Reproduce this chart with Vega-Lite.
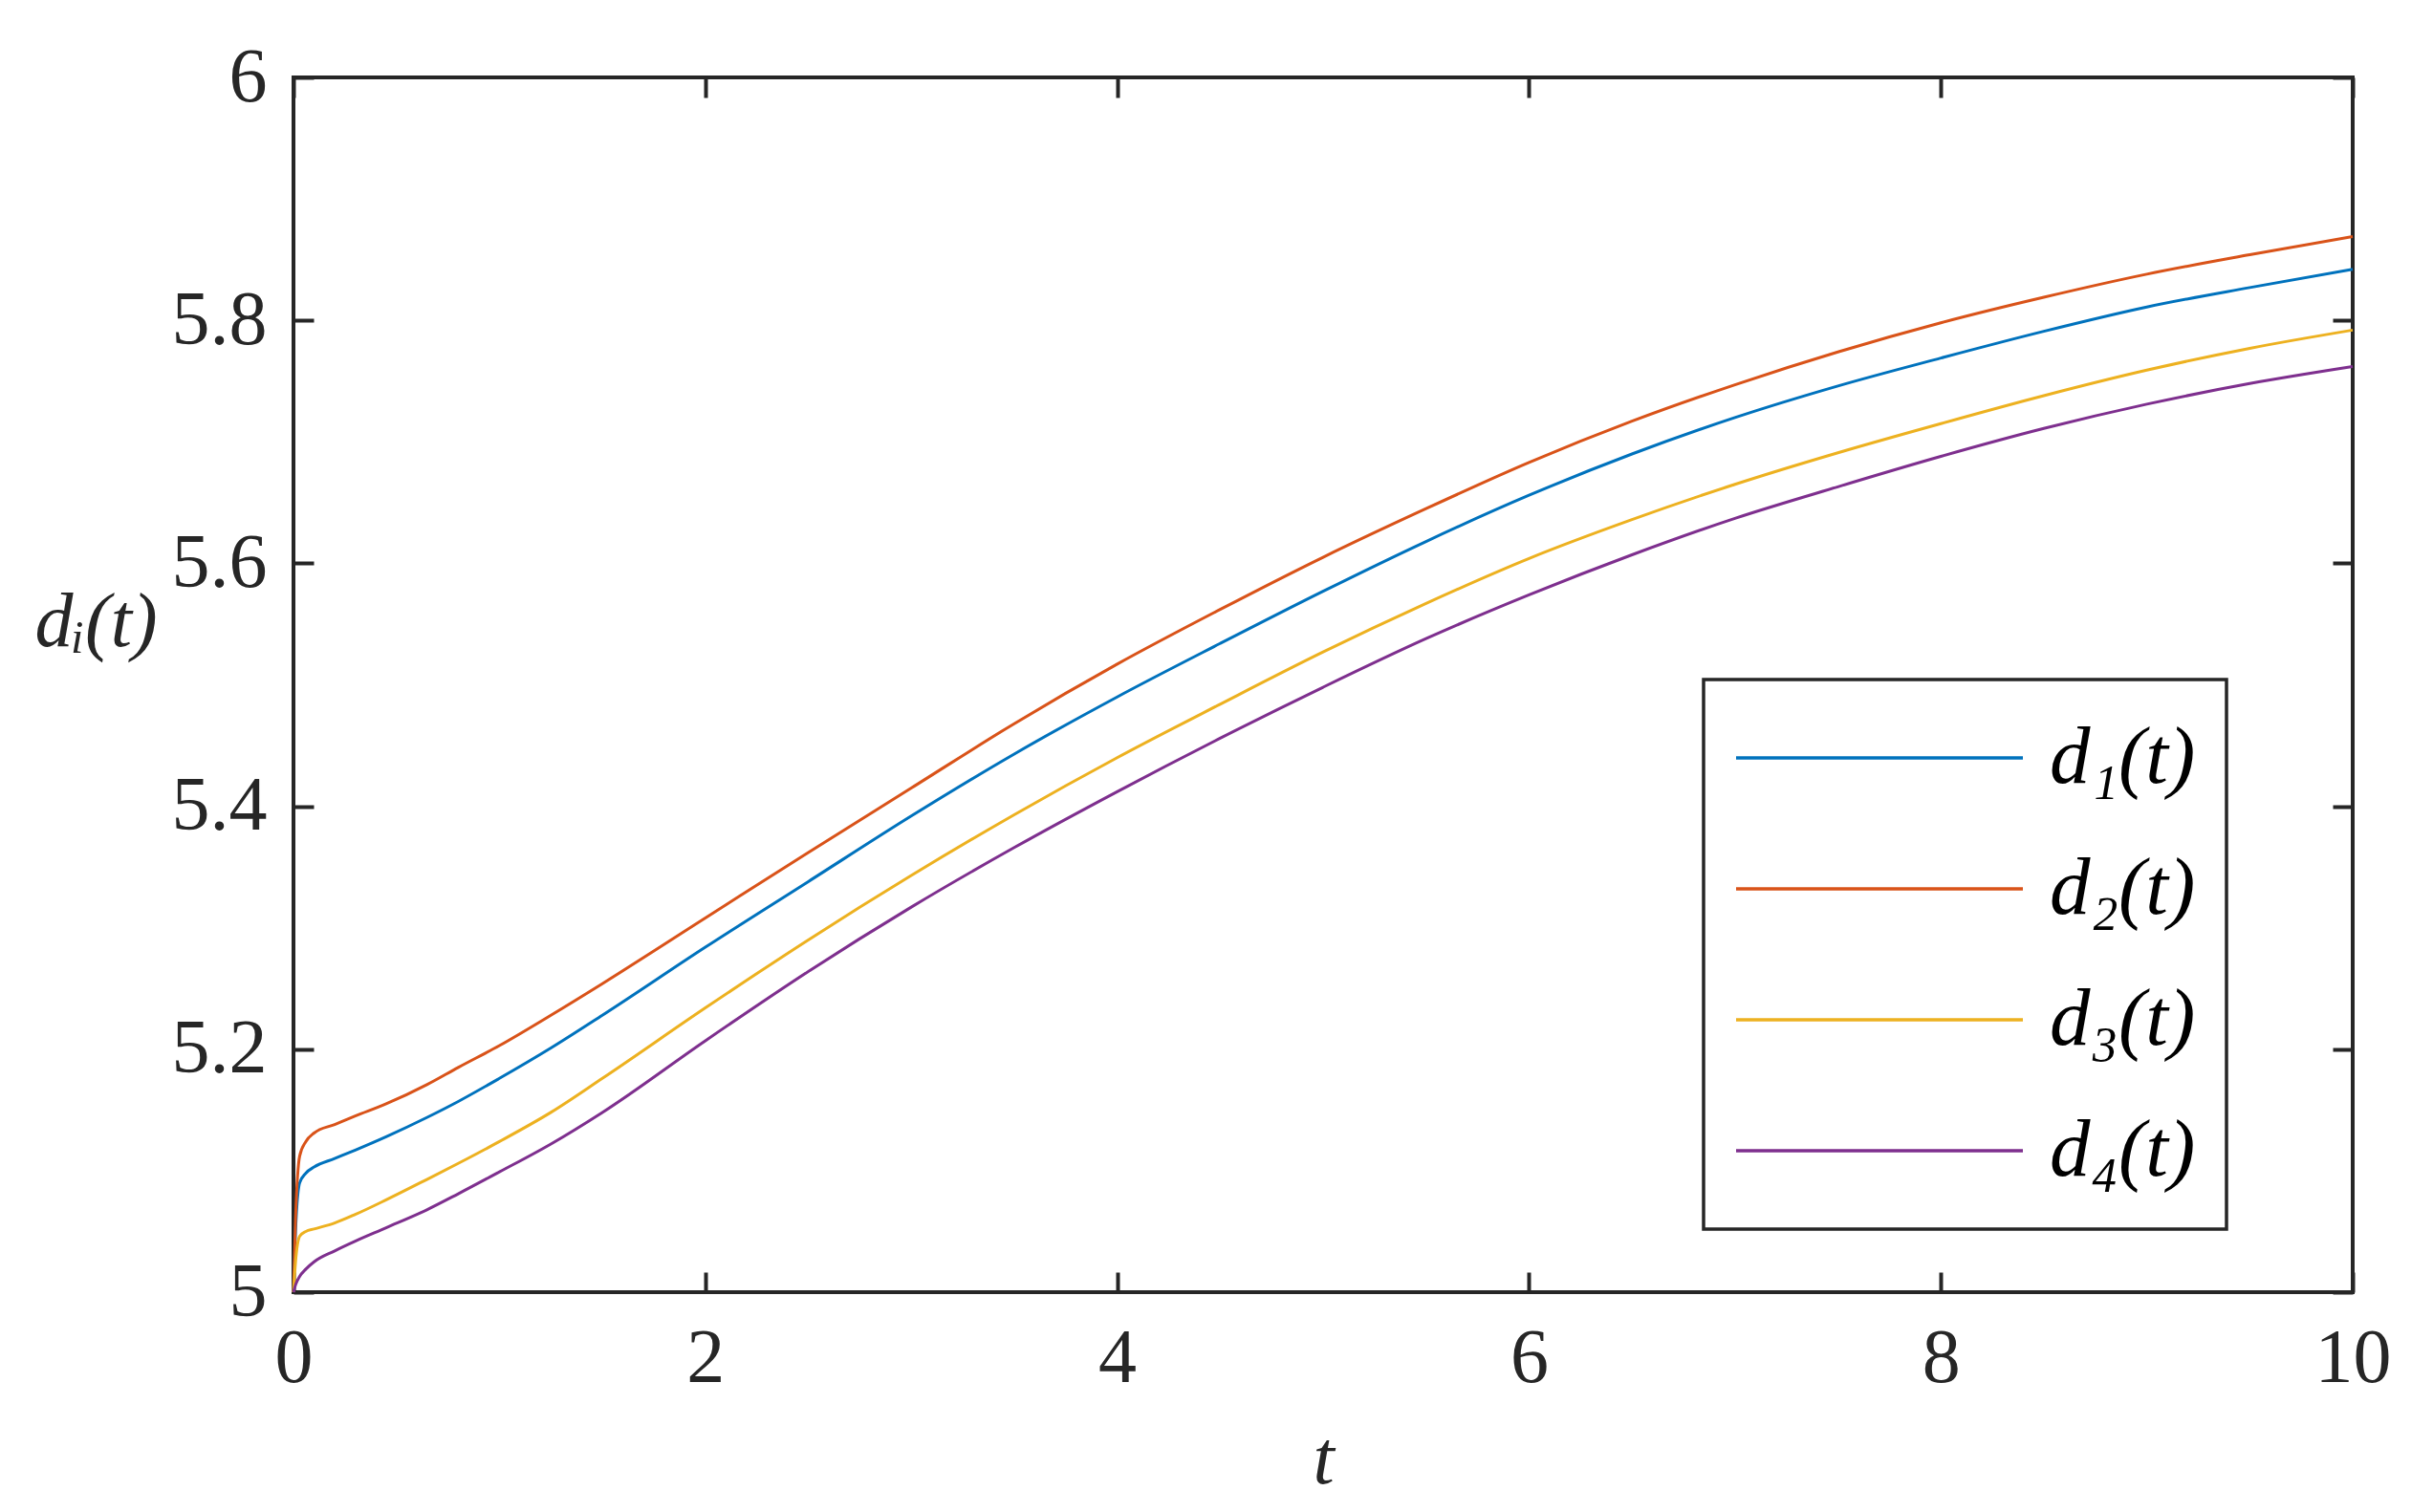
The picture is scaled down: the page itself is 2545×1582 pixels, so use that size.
{
  "$schema": "https://vega.github.io/schema/vega-lite/v6.json",
  "width": 2154,
  "height": 1271,
  "autosize": {"type": "none"},
  "padding": {"left": 307, "top": 81, "right": 84, "bottom": 230},
  "background": "white",
  "config": {
    "view": {"stroke": "#262626", "strokeWidth": 4},
    "font": "Liberation Serif",
    "legend": {"strokeWidth": 3.5}
  },
  "datasets": {
    "curves": [
      {"t": 0, "series": "d₁(t)", "d": 5.0}, {"t": 0.01, "series": "d₁(t)", "d": 5.05}, {"t": 0.03, "series": "d₁(t)", "d": 5.09}, {"t": 0.06, "series": "d₁(t)", "d": 5.098}, {"t": 0.1, "series": "d₁(t)", "d": 5.103}, {"t": 0.2, "series": "d₁(t)", "d": 5.11}, {"t": 0.3, "series": "d₁(t)", "d": 5.117}, {"t": 0.45, "series": "d₁(t)", "d": 5.128}, {"t": 0.65, "series": "d₁(t)", "d": 5.144}, {"t": 0.8, "series": "d₁(t)", "d": 5.157}, {"t": 1, "series": "d₁(t)", "d": 5.176}, {"t": 1.25, "series": "d₁(t)", "d": 5.201}, {"t": 1.5, "series": "d₁(t)", "d": 5.228}, {"t": 2, "series": "d₁(t)", "d": 5.284}, {"t": 2.5, "series": "d₁(t)", "d": 5.338}, {"t": 3, "series": "d₁(t)", "d": 5.392}, {"t": 3.5, "series": "d₁(t)", "d": 5.443}, {"t": 4, "series": "d₁(t)", "d": 5.49}, {"t": 4.5, "series": "d₁(t)", "d": 5.534}, {"t": 5, "series": "d₁(t)", "d": 5.577}, {"t": 5.5, "series": "d₁(t)", "d": 5.618}, {"t": 6, "series": "d₁(t)", "d": 5.656}, {"t": 6.5, "series": "d₁(t)", "d": 5.69}, {"t": 7, "series": "d₁(t)", "d": 5.72}, {"t": 7.5, "series": "d₁(t)", "d": 5.746}, {"t": 8, "series": "d₁(t)", "d": 5.769}, {"t": 8.5, "series": "d₁(t)", "d": 5.791}, {"t": 9, "series": "d₁(t)", "d": 5.811}, {"t": 9.5, "series": "d₁(t)", "d": 5.827}, {"t": 10, "series": "d₁(t)", "d": 5.842},
      {"t": 0, "series": "d₂(t)", "d": 5.0}, {"t": 0.01, "series": "d₂(t)", "d": 5.06}, {"t": 0.03, "series": "d₂(t)", "d": 5.112}, {"t": 0.06, "series": "d₂(t)", "d": 5.124}, {"t": 0.1, "series": "d₂(t)", "d": 5.131}, {"t": 0.2, "series": "d₂(t)", "d": 5.138}, {"t": 0.3, "series": "d₂(t)", "d": 5.145}, {"t": 0.45, "series": "d₂(t)", "d": 5.155}, {"t": 0.65, "series": "d₂(t)", "d": 5.171}, {"t": 0.8, "series": "d₂(t)", "d": 5.185}, {"t": 1, "series": "d₂(t)", "d": 5.203}, {"t": 1.25, "series": "d₂(t)", "d": 5.228}, {"t": 1.5, "series": "d₂(t)", "d": 5.254}, {"t": 2, "series": "d₂(t)", "d": 5.308}, {"t": 2.5, "series": "d₂(t)", "d": 5.362}, {"t": 3, "series": "d₂(t)", "d": 5.415}, {"t": 3.5, "series": "d₂(t)", "d": 5.468}, {"t": 4, "series": "d₂(t)", "d": 5.517}, {"t": 4.5, "series": "d₂(t)", "d": 5.562}, {"t": 5, "series": "d₂(t)", "d": 5.605}, {"t": 5.5, "series": "d₂(t)", "d": 5.645}, {"t": 6, "series": "d₂(t)", "d": 5.683}, {"t": 6.5, "series": "d₂(t)", "d": 5.717}, {"t": 7, "series": "d₂(t)", "d": 5.747}, {"t": 7.5, "series": "d₂(t)", "d": 5.774}, {"t": 8, "series": "d₂(t)", "d": 5.798}, {"t": 8.5, "series": "d₂(t)", "d": 5.819}, {"t": 9, "series": "d₂(t)", "d": 5.838}, {"t": 9.5, "series": "d₂(t)", "d": 5.854}, {"t": 10, "series": "d₂(t)", "d": 5.869},
      {"t": 0, "series": "d₃(t)", "d": 5.0}, {"t": 0.01, "series": "d₃(t)", "d": 5.025}, {"t": 0.03, "series": "d₃(t)", "d": 5.046}, {"t": 0.06, "series": "d₃(t)", "d": 5.05}, {"t": 0.1, "series": "d₃(t)", "d": 5.052}, {"t": 0.2, "series": "d₃(t)", "d": 5.057}, {"t": 0.3, "series": "d₃(t)", "d": 5.064}, {"t": 0.45, "series": "d₃(t)", "d": 5.076}, {"t": 0.65, "series": "d₃(t)", "d": 5.093}, {"t": 0.8, "series": "d₃(t)", "d": 5.106}, {"t": 1, "series": "d₃(t)", "d": 5.124}, {"t": 1.25, "series": "d₃(t)", "d": 5.148}, {"t": 1.5, "series": "d₃(t)", "d": 5.176}, {"t": 2, "series": "d₃(t)", "d": 5.234}, {"t": 2.5, "series": "d₃(t)", "d": 5.29}, {"t": 3, "series": "d₃(t)", "d": 5.343}, {"t": 3.5, "series": "d₃(t)", "d": 5.393}, {"t": 4, "series": "d₃(t)", "d": 5.44}, {"t": 4.5, "series": "d₃(t)", "d": 5.484}, {"t": 5, "series": "d₃(t)", "d": 5.527}, {"t": 5.5, "series": "d₃(t)", "d": 5.567}, {"t": 6, "series": "d₃(t)", "d": 5.604}, {"t": 6.5, "series": "d₃(t)", "d": 5.636}, {"t": 7, "series": "d₃(t)", "d": 5.665}, {"t": 7.5, "series": "d₃(t)", "d": 5.691}, {"t": 8, "series": "d₃(t)", "d": 5.715}, {"t": 8.5, "series": "d₃(t)", "d": 5.738}, {"t": 9, "series": "d₃(t)", "d": 5.759}, {"t": 9.5, "series": "d₃(t)", "d": 5.777}, {"t": 10, "series": "d₃(t)", "d": 5.792},
      {"t": 0, "series": "d₄(t)", "d": 5.0}, {"t": 0.01, "series": "d₄(t)", "d": 5.006}, {"t": 0.03, "series": "d₄(t)", "d": 5.013}, {"t": 0.06, "series": "d₄(t)", "d": 5.019}, {"t": 0.1, "series": "d₄(t)", "d": 5.025}, {"t": 0.2, "series": "d₄(t)", "d": 5.034}, {"t": 0.3, "series": "d₄(t)", "d": 5.042}, {"t": 0.45, "series": "d₄(t)", "d": 5.053}, {"t": 0.65, "series": "d₄(t)", "d": 5.068}, {"t": 0.8, "series": "d₄(t)", "d": 5.081}, {"t": 1, "series": "d₄(t)", "d": 5.099}, {"t": 1.25, "series": "d₄(t)", "d": 5.122}, {"t": 1.5, "series": "d₄(t)", "d": 5.148}, {"t": 2, "series": "d₄(t)", "d": 5.207}, {"t": 2.5, "series": "d₄(t)", "d": 5.264}, {"t": 3, "series": "d₄(t)", "d": 5.317}, {"t": 3.5, "series": "d₄(t)", "d": 5.366}, {"t": 4, "series": "d₄(t)", "d": 5.412}, {"t": 4.5, "series": "d₄(t)", "d": 5.456}, {"t": 5, "series": "d₄(t)", "d": 5.498}, {"t": 5.5, "series": "d₄(t)", "d": 5.538}, {"t": 6, "series": "d₄(t)", "d": 5.574}, {"t": 6.5, "series": "d₄(t)", "d": 5.607}, {"t": 7, "series": "d₄(t)", "d": 5.637}, {"t": 7.5, "series": "d₄(t)", "d": 5.663}, {"t": 8, "series": "d₄(t)", "d": 5.688}, {"t": 8.5, "series": "d₄(t)", "d": 5.711}, {"t": 9, "series": "d₄(t)", "d": 5.731}, {"t": 9.5, "series": "d₄(t)", "d": 5.748}, {"t": 10, "series": "d₄(t)", "d": 5.762}
    ]
  },
  "data": {"name": "curves"},
  "layer": [
    {
      "mark": {"type": "line", "opacity": 0},
      "encoding": {
        "x": {
          "field": "t", "type": "quantitative",
          "scale": {"domain": [0, 10], "nice": false},
          "axis": {"orient": "top", "values": [0, 2, 4, 6, 8, 10], "labels": false, "title": null, "domain": false, "grid": false, "tickSize": -21, "tickWidth": 4, "tickColor": "#262626"}
        },
        "y": {
          "field": "d", "type": "quantitative",
          "scale": {"domain": [5, 6], "nice": false, "zero": false},
          "axis": {"orient": "right", "values": [5, 5.2, 5.4, 5.6, 5.8, 6], "labels": false, "title": null, "domain": false, "grid": false, "tickSize": -21, "tickWidth": 4, "tickColor": "#262626"}
        },
        "detail": {"field": "series"}
      }
    },
    {
      "mark": {"type": "line", "strokeWidth": 3, "interpolate": "monotone"},
      "encoding": {
        "x": {
          "field": "t", "type": "quantitative",
          "scale": {"domain": [0, 10], "nice": false},
          "axis": {
            "orient": "bottom", "values": [0, 2, 4, 6, 8, 10], "format": "d",
            "domain": false, "grid": false,
            "tickSize": -21, "tickWidth": 4, "tickColor": "#262626",
            "labelFont": "Liberation Serif", "labelFontSize": 80, "labelColor": "#262626",
            "labelPadding": 51, "labelFlush": false, "labelOverlap": false,
            "title": "t", "titleFont": "Liberation Serif", "titleFontSize": 80, "titleFontStyle": "italic", "titleFontWeight": "normal", "titleColor": "#262626",
            "titleY": 175, "titleBaseline": "middle"
          }
        },
        "y": {
          "field": "d", "type": "quantitative",
          "scale": {"domain": [5, 6], "nice": false, "zero": false},
          "axis": {
            "orient": "left", "values": [5, 5.2, 5.4, 5.6, 5.8, 6], "format": "~g",
            "domain": false, "grid": false,
            "tickSize": -21, "tickWidth": 4, "tickColor": "#262626",
            "labelFont": "Liberation Serif", "labelFontSize": 80, "labelColor": "#262626",
            "labelPadding": 49, "labelFlush": false, "labelOverlap": false,
            "title": "dᵢ(t)", "titleFont": "Liberation Serif", "titleFontSize": 80, "titleFontStyle": "italic", "titleFontWeight": "normal", "titleColor": "#262626",
            "titleAngle": 0, "titleX": -207, "titleY": 570, "titleAlign": "center", "titleBaseline": "middle"
          }
        },
        "color": {
          "field": "series", "type": "nominal",
          "scale": {"domain": ["d₁(t)", "d₂(t)", "d₃(t)", "d₄(t)"], "range": ["#0072BD", "#D95319", "#EDB120", "#7E2F8E"]},
          "legend": {
            "orient": "none", "legendX": 1475, "legendY": 630, "direction": "vertical",
            "title": null,
            "strokeColor": "#262626", "fillColor": "white", "padding": 32,
            "symbolType": "stroke", "symbolSize": 90000, "symbolStrokeWidth": 3.5,
            "clipHeight": 100, "rowPadding": 37,
            "labelFont": "Liberation Serif", "labelFontSize": 85, "labelFontStyle": "italic", "labelColor": "black",
            "labelOffset": 26, "labelLimit": 0
          }
        }
      }
    }
  ],
  "resolve": {"axis": {"x": "independent", "y": "independent"}}
}
